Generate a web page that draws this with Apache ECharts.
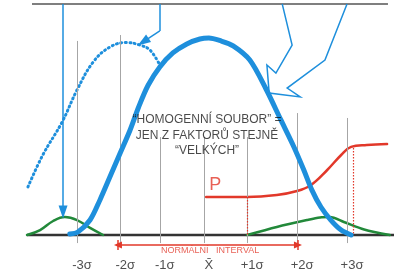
<!DOCTYPE html>
<html>
<head>
<meta charset="utf-8">
<script src="https://cdn.jsdelivr.net/npm/echarts@6/dist/echarts.min.js"></script>
<style>
html, body { margin: 0; padding: 0; background: #fff; }
#chart { width: 394px; height: 269px; }
</style>
</head>
<body>
<div id="chart"></div>
<script>
'use strict';

// x is in sigma units, y in percent of the main bell's height
var sigmaLabels = ['-3σ', '-2σ', '-1σ', 'X̄', '+1σ', '+2σ', '+3σ'];
var sigmaPos = [-3.0, -2.04, -1.16, -0.18, 0.78, 1.89, 3.0];
var sigmaTop = [98.5, 101.5, 49.7, 49.7, 49.7, 61.9, 59.4];

var mainBell = [[-3.16, 0.5], [-2.98, 1.5], [-2.71, 7.6], [-2.49, 17.8], [-2.27, 29.4], [-2.04, 41.6],
	[-1.82, 53.3], [-1.63, 65.0], [-1.42, 76.0], [-1.16, 85.3], [-0.87, 92.4], [-0.56, 97.0],
	[-0.27, 99.5], [-0.07, 100], [0.2, 98.5], [0.47, 96.0], [0.84, 88.8], [1.2, 74.1],
	[1.53, 58.4], [1.82, 44.7], [2.04, 33.0], [2.22, 22.8], [2.42, 14.2], [2.64, 7.6],
	[2.87, 2.5], [3.09, 0]];
var shiftedBell = [[-4.09, 24.4], [-3.76, 40.6], [-3.33, 57.4], [-3.0, 73.6], [-2.64, 87.8],
	[-2.27, 95.4], [-1.9, 97.7], [-1.6, 96.4], [-1.38, 93.9], [-1.16, 86.3]];
var leftTail = [[-4.11, 0], [-3.82, 2.5], [-3.53, 7.1], [-3.27, 9.1], [-3.0, 7.6], [-2.71, 3.6], [-2.42, 0]];
var rightTail = [[0.78, 0], [1.44, 4.1], [2.11, 7.6], [2.4, 8.9], [2.62, 9.1], [2.93, 6.6], [3.38, 2.8], [3.95, 0]];
var curveP = [[-0.13, 19.3], [0.78, 19.3], [1.44, 20.3], [1.89, 22.3], [2.2, 25.4], [2.56, 33.0],
	[2.87, 40.6], [3.09, 44.7], [3.44, 45.7], [3.89, 46.2]];
var pMarks = [[0.78, 19.3], [3.13, 44.2]];
var interval = [-2.09, 1.91];

var noteLines = ['“HOMOGENNÍ SOUBOR” =', 'JEN Z FAKTORŮ STEJNĚ', '“VELKÝCH”'];
var intervalText = 'NORMÁLNÍ   INTERVAL';

// top table and pointer arrows
var tableEdges = [-4.0, -1.96, 0.27, 1.96, 3.91];
var hollowArrow = [[1.56, 117.3], [1.78, 96.4], [1.42, 82.2], [1.22, 86.3], [1.27, 72.1],
	[1.96, 70.1], [1.67, 74.6], [2.51, 88.8], [3.0, 117.3]];

var BLUE = '#1e8fdc';
var GREEN = '#22893a';
var RED = '#e2382a';
var GRAY = '#a6a6a6';
var FONT = '"Liberation Sans", Arial, sans-serif';

function seg(a, b) {
	return [{ coord: a }, { coord: b }];
}

function bare(a, b) {
	var s = seg(a, b);
	s[0].symbol = 'none';
	s[1].symbol = 'none';
	return s;
}

function curve(name, data, color, width, extra) {
	return Object.assign({
		name: name,
		type: 'line',
		data: data,
		smooth: 0.4,
		symbol: 'none',
		silent: true,
		lineStyle: { color: color, width: width, cap: 'round' }
	}, extra || {});
}

var chart = echarts.init(document.getElementById('chart'));

chart.setOption({
	animation: false,
	grid: { left: 0, right: 0, top: 0, bottom: 0 },
	xAxis: { type: 'value', min: -4.711, max: 4.044, show: false },
	yAxis: { type: 'value', min: -17.26, max: 119.29, show: false },
	series: [
		// gray sigma guides
		{
			type: 'line',
			data: [],
			silent: true,
			z: 1,
			markLine: {
				silent: true,
				symbol: ['none', 'none'],
				label: { show: false },
				lineStyle: { color: GRAY, width: 1, type: 'solid' },
				data: sigmaPos.map(function (x, i) {
					return seg([x, sigmaTop[i]], [x, -4.1]);
				})
			}
		},
		// baseline
		{
			type: 'line',
			data: [[-4.11, 0], [4.044, 0]],
			symbol: 'none',
			silent: true,
			z: 2,
			lineStyle: { color: '#333', width: 2.5 }
		},
		// top table
		{
			type: 'line',
			data: [[tableEdges[0], 117.3], [tableEdges[4], 117.3]],
			symbol: 'none',
			silent: true,
			lineStyle: { color: '#555', width: 1.5 },
			markLine: {
				silent: true,
				symbol: ['none', 'none'],
				label: { show: false },
				data: tableEdges.map(function (x, i) {
					var s = seg([x, 117.3], [x, 119.3]);
					s[0].lineStyle = { color: i === 2 ? '#22207a' : '#555', width: 1.5, type: 'solid' };
					return s;
				})
			}
		},
		// red dotted marks under P
		{
			type: 'line',
			data: [],
			silent: true,
			markLine: {
				silent: true,
				symbol: ['none', 'none'],
				label: { show: false },
				lineStyle: { color: RED, width: 1.2, type: [1.5, 1.5] },
				data: pMarks.map(function (p) {
					return seg(p, [p[0], 0]);
				})
			}
		},
		curve('leftTail', leftTail, GREEN, 2.5, { z: 3 }),
		curve('rightTail', rightTail, GREEN, 2.5, { z: 3, smooth: 0.3 }),
		curve('P', curveP, RED, 2.5, { z: 3 }),
		curve('shifted', shiftedBell, BLUE, 3, { z: 4, lineStyle: { color: BLUE, width: 3, type: [1, 3.5], cap: 'round' } }),
		curve('main', mainBell, BLUE, 5, { z: 5, smooth: 0.3 }),
		// pointer arrows
		{
			type: 'line',
			data: hollowArrow,
			symbol: 'none',
			silent: true,
			z: 6,
			lineStyle: { color: BLUE, width: 1.5, join: 'miter' },
			markLine: {
				silent: true,
				label: { show: false },
				lineStyle: { color: BLUE, width: 1.5, type: 'solid' },
				symbol: ['none', 'triangle'],
				symbolSize: [9, 13],
				data: [
					seg([-3.31, 117.3], [-3.31, 11.7]),
					seg([-1.16, 103.6], [-1.53, 98.0]),
					bare([-1.16, 117.3], [-1.16, 103.6])
				]
			}
		},
		// normal interval arrow
		{
			type: 'line',
			data: [],
			silent: true,
			z: 6,
			markLine: {
				silent: true,
				label: { show: false },
				lineStyle: { color: RED, width: 1.5, type: 'solid' },
				symbol: ['triangle', 'triangle'],
				symbolSize: [7, 8],
				data: [
					seg([interval[0], -5.1], [interval[1], -5.1]),
					bare([interval[0], -2.6], [interval[0], -7.6]),
					bare([interval[1], -2.6], [interval[1], -7.6])
				]
			}
		},
		// texts
		{
			type: 'scatter',
			symbolSize: 0,
			silent: true,
			z: 7,
			data: [
				{ value: [-0.11, 50.5], label: { formatter: noteLines.join('\n'), fontSize: 12, lineHeight: 15.5, color: '#1a1a1a' } },
				{ value: [0.07, 25.4], label: { formatter: 'P', fontSize: 18, color: RED } },
				{ value: [-0.04, -8.1], label: { formatter: intervalText, fontSize: 9, color: RED } }
			],
			label: { show: true, position: 'inside', align: 'center', verticalAlign: 'middle', fontFamily: FONT }
		},
		{
			type: 'scatter',
			symbolSize: 0,
			silent: true,
			z: 7,
			data: sigmaPos.map(function (x) { return [x, -15.2]; }),
			label: {
				show: true,
				position: 'inside',
				offset: [5, 0],
				align: 'center',
				verticalAlign: 'middle',
				fontFamily: FONT,
				fontSize: 13,
				color: '#222',
				formatter: function (p) { return sigmaLabels[p.dataIndex]; }
			}
		}
	]
});
</script>
</body>
</html>
